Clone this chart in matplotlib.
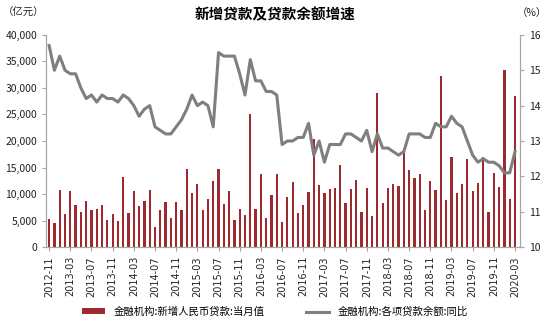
import matplotlib.pyplot as plt
from matplotlib.ticker import FuncFormatter, MultipleLocator

plt.rcParams['font.family'] = ['Noto Sans CJK SC', 'DejaVu Sans']

# monthly, 2012-11 .. 2020-03
start_year, start_month = 2012, 11
n_months = 89
months = []
y, m = start_year, start_month
for _ in range(n_months):
    months.append(f"{y}-{m:02d}")
    m += 1
    if m > 12:
        m = 1
        y += 1

# 新增人民币贷款:当月值 (亿元)
new_loans = [5229, 4543, 10721, 6200, 10625, 7929, 6694, 8605, 6999, 7113, 7870, 5061,
             6246, 4825, 13200, 6445, 10500, 7747, 8708, 10800, 3852, 7025, 8572, 5483,
             8527, 6973, 14708, 10200, 11800, 7079, 9008, 12400, 14800, 8096, 10500, 5136,
             7089, 5978, 25100, 7266, 13700, 5556, 9855, 13800, 4636, 9487, 12200, 6513,
             7946, 10400, 20300, 11700, 10200, 11000, 11100, 15400, 8255, 10900, 12700, 6632,
             11200, 5844, 29000, 8393, 11200, 11800, 11500, 18400, 14500, 13100, 13800, 6970,
             12500, 10800, 32300, 8858, 16900, 10200, 11800, 16600, 10600, 12100, 16900, 6613,
             13900, 11400, 33400, 9057, 28500]

# 各项贷款余额:同比 (%)
loan_growth = [15.7, 15.0, 15.4, 15.0, 14.9, 14.9, 14.5, 14.2, 14.3, 14.1, 14.3, 14.2,
               14.2, 14.1, 14.3, 14.2, 14.0, 13.7, 13.9, 14.0, 13.4, 13.3, 13.2, 13.2,
               13.4, 13.6, 13.9, 14.3, 14.0, 14.1, 14.0, 13.4, 15.5, 15.4, 15.4, 15.4,
               14.9, 14.3, 15.3, 14.7, 14.7, 14.4, 14.4, 14.3, 12.9, 13.0, 13.0, 13.1,
               13.1, 13.5, 12.6, 13.0, 12.4, 12.9, 12.9, 12.9, 13.2, 13.2, 13.1, 13.0,
               13.3, 12.7, 13.2, 12.8, 12.8, 12.7, 12.6, 12.7, 13.2, 13.2, 13.2, 13.1,
               13.1, 13.5, 13.4, 13.4, 13.7, 13.5, 13.4, 13.0, 12.6, 12.4, 12.5, 12.4,
               12.4, 12.3, 12.1, 12.1, 12.7]

bar_label = "金融机构:新增人民币贷款:当月值"
line_label = "金融机构:各项贷款余额:同比"

bar_color = "#9E2A2F"
line_color = "#7F7F7F"
axis_color = "#A6A6A6"

fig = plt.figure(figsize=(5.5, 3.23), dpi=100)
ax = fig.add_axes([0.084, 0.235, 0.862, 0.657])
ax2 = ax.twinx()

x = list(range(n_months))
bars = ax.bar(x, new_loans, width=0.42, color=bar_color, label=bar_label, zorder=2)
line, = ax2.plot(x, loan_growth, color=line_color, lw=2.2, label=line_label, zorder=3)

ax.set_zorder(ax2.get_zorder() - 1)
ax2.patch.set_visible(False)

ax.set_xlim(-0.55, 89.0)
ax.set_ylim(0, 40000)
ax2.set_ylim(10, 16)
ax.yaxis.set_major_locator(MultipleLocator(5000))
ax.yaxis.set_major_formatter(FuncFormatter(lambda v, p: f"{int(v):,}"))
ax2.yaxis.set_major_locator(MultipleLocator(1))

ax.set_xticks(x[::4])
ax.set_xticklabels(months[::4], rotation=90, fontsize=7, family='DejaVu Sans')

for a in (ax, ax2):
    a.spines['top'].set_visible(False)
    for s in ('left', 'right', 'bottom'):
        a.spines[s].set_color(axis_color)
    a.tick_params(colors=axis_color, labelcolor='#222222', length=3, width=0.8)
ax.tick_params(axis='y', labelsize=7.5)
ax2.tick_params(axis='y', labelsize=7.5)

fig.text(0.5, 0.955, "新增贷款及贷款余额增速", ha='center', va='center',
         fontsize=10.5, fontweight='bold')
fig.text(0.005, 0.96, "（亿元）", ha='left', va='center', fontsize=7.5, color='#222222')
fig.text(0.995, 0.96, "（%）", ha='right', va='center', fontsize=7.5, color='#222222')

fig.legend(handles=[bars, line], loc='lower center', bbox_to_anchor=(0.5, -0.01),
           ncol=2, frameon=False, fontsize=7.5, columnspacing=4.0,
           handlelength=2.2, handleheight=0.5)

fig.savefig("out.png", dpi=100)
